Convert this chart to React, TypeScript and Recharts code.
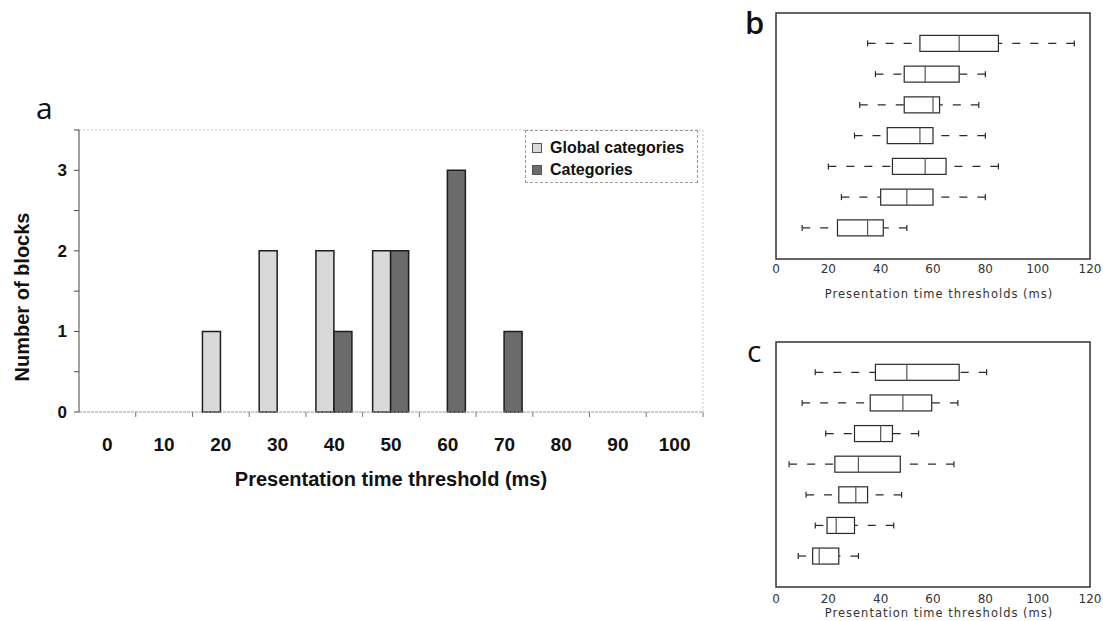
import React from "react";
import {
  BarChart,
  Bar,
  XAxis,
  YAxis,
  Legend,
  ReferenceLine,
  ComposedChart,
  ReferenceArea,
} from "recharts";

// panel a: histogram of thresholds
const thresholds = [0, 10, 20, 30, 40, 50, 60, 70, 80, 90, 100];
const globalCounts = [0, 0, 1, 2, 2, 2, 0, 0, 0, 0, 0];
const categoryCounts = [0, 0, 0, 0, 1, 2, 3, 1, 0, 0, 0];
const countTicks = [0, 0.5, 1, 1.5, 2, 2.5, 3, 3.5];
const seriesNames = ["Global categories", "Categories"];

// panels b and c: box plots, rows listed top to bottom
const timeTicks = [0, 20, 40, 60, 80, 100, 120];

const bLow = [35, 38, 32, 30, 20, 25, 10];
const bQ1 = [55, 49, 49, 42.5, 44.5, 40, 23.5];
const bMedian = [70, 57, 60, 55, 57, 50, 35];
const bQ3 = [85, 70, 62.5, 60, 65, 60, 41];
const bHigh = [114, 80, 77.5, 80, 85, 80, 50];

const cLow = [15, 10, 19, 5, 11.5, 15, 8.5];
const cQ1 = [38, 36, 30, 22.5, 24, 19.5, 14];
const cMedian = [50, 48.5, 40, 31.5, 30.5, 23, 16.5];
const cQ3 = [70, 59.5, 44.5, 47.5, 35, 30, 24];
const cHigh = [80.5, 69.5, 54.5, 68, 48, 45, 31.5];

const histData = thresholds.map((t, i) => ({
  t,
  global: globalCounts[i],
  cat: categoryCounts[i],
}));

// vertical layout puts small positions at the top
const makeRows = (low: number[], q1: number[], med: number[], q3: number[], high: number[]) =>
  low.map((_, i) => ({
    pos: i + 1,
    low: low[i],
    q1: q1[i],
    median: med[i],
    q3: q3[i],
    high: high[i],
  }));

const bRows = makeRows(bLow, bQ1, bMedian, bQ3, bHigh);
const cRows = makeRows(cLow, cQ1, cMedian, cQ3, cHigh);

const ARIAL = "'Liberation Sans', Arial, sans-serif";
const THIN = "'DejaVu Sans', sans-serif";
const PLOT_W = 624;
const BAND = PLOT_W / thresholds.length;

function ThresholdTick({ x, y, payload }: any) {
  return (
    <g>
      <line x1={x + BAND / 2} x2={x + BAND / 2} y1={y} y2={y + 5} stroke="#777" />
      <text x={x} y={y + 39} textAnchor="middle" fontFamily={ARIAL} fontWeight={700} fontSize={19} fill="#111">
        {payload.value}
      </text>
    </g>
  );
}

function HistLegend({ payload }: any) {
  const items = [...(payload || [])].sort(
    (a: any, b: any) => seriesNames.indexOf(a.value) - seriesNames.indexOf(b.value)
  );
  return (
    <div
      style={{
        border: "1px dashed #9a9a9a",
        padding: "6px 0 4px 6px",
        boxSizing: "border-box",
        height: 53,
        background: "#fff",
      }}
    >
      {items.map((item: any) => (
        <div key={item.value} style={{ display: "flex", alignItems: "center", height: 22 }}>
          <span
            style={{
              width: 8,
              height: 8,
              background: item.color,
              border: "1px solid #555",
              marginRight: 8,
            }}
          />
          <span style={{ fontFamily: ARIAL, fontWeight: 700, fontSize: 16, color: "#111" }}>{item.value}</span>
        </div>
      ))}
    </div>
  );
}

function BoxShape(props: any) {
  const { x, y, width, height, payload } = props;
  if (!payload) return null;
  const ppu = width / (payload.q3 - payload.q1);
  const px = (v: number) => x + (v - payload.q1) * ppu;
  const cy = y + height / 2;
  const lo = px(payload.low);
  const hi = px(payload.high);
  const med = px(payload.median);
  return (
    <g fill="none" stroke="#2a2a2a" strokeWidth={1.2}>
      <line x1={lo} x2={x} y1={cy} y2={cy} strokeDasharray="8 10" />
      <line x1={hi} x2={x + width} y1={cy} y2={cy} strokeDasharray="8 10" />
      <line x1={lo} x2={lo} y1={cy - 3} y2={cy + 3} />
      <line x1={hi} x2={hi} y1={cy - 3} y2={cy + 3} />
      <rect x={x} y={y} width={width} height={height} fill="#fff" />
      <line x1={med} x2={med} y1={y} y2={y + height} stroke="#555" />
    </g>
  );
}

function BoxPanel({ rows, height, top, tickMargin, axisHeight, labelOffset }: any) {
  return (
    <ComposedChart
      layout="vertical"
      width={343}
      height={height}
      data={rows}
      margin={{ top, right: 13, bottom: 1, left: 16 }}
    >
      <XAxis
        type="number"
        domain={[0, 120]}
        ticks={timeTicks}
        axisLine={false}
        tickLine={false}
        tickSize={0}
        tickMargin={tickMargin}
        height={axisHeight}
        tick={{ fontFamily: THIN, fontSize: 12, fill: "#333" }}
        label={{
          value: "Presentation time thresholds (ms)",
          position: "insideBottom",
          offset: labelOffset,
          dx: 6,
          style: { fontFamily: THIN, fontSize: 11.5, fill: "#333", letterSpacing: "1px" },
        }}
      />
      <YAxis type="number" dataKey="pos" domain={[0, 8]} hide />
      <ReferenceArea x1={0} x2={120} y1={0} y2={8} fill="none" stroke="#333" strokeWidth={1.5} />
      <Bar
        dataKey={(d: any) => [d.q1, d.q3]}
        barSize={16}
        shape={<BoxShape />}
        isAnimationActive={false}
      />
    </ComposedChart>
  );
}

export default function App() {
  return (
    <div style={{ position: "absolute", left: 0, top: 0, width: 1103, height: 621, background: "#fff", overflow: "hidden" }}>
      <div style={{ position: "absolute", left: 0, top: 0 }}>
        <BarChart
          width={720}
          height={560}
          data={histData}
          margin={{ top: 130, right: 17, bottom: 15, left: 0 }}
          barSize={18}
          barGap={0}
        >
          <XAxis
            dataKey="t"
            type="category"
            axisLine={{ stroke: "#9a9a9a", strokeDasharray: "3 1" }}
            tickLine={false}
            tickSize={0}
            tickMargin={0}
            height={80}
            interval={0}
            tick={<ThresholdTick />}
            label={{
              value: "Presentation time threshold (ms)",
              position: "insideBottom",
              offset: 6,
              style: { fontFamily: ARIAL, fontWeight: 700, fontSize: 20, fill: "#111" },
            }}
          />
          <YAxis
            domain={[0, 3.5]}
            ticks={countTicks}
            width={79}
            tickSize={5}
            tickMargin={7}
            axisLine={{ stroke: "#444" }}
            tickLine={{ stroke: "#444" }}
            tickFormatter={(v: number) => (Number.isInteger(v) ? String(v) : "")}
            tick={{ fontFamily: ARIAL, fontWeight: 700, fontSize: 17, fill: "#111" }}
          />
          <ReferenceLine y={3.5} stroke="#c4c4c4" strokeDasharray="2 2" />
          <ReferenceLine x={100} position="end" stroke="#c4c4c4" strokeDasharray="2 2" />
          <Legend
            layout="vertical"
            content={<HistLegend />}
            wrapperStyle={{ position: "absolute", left: 525, top: 130, width: 173, bottom: "auto", right: "auto" }}
          />
          <Bar
            dataKey="global"
            name={seriesNames[0]}
            fill="#d9d9d9"
            stroke="#1e1e1e"
            strokeWidth={1.5}
            isAnimationActive={false}
          />
          <Bar
            dataKey="cat"
            name={seriesNames[1]}
            fill="#6b6b6b"
            stroke="#1e1e1e"
            strokeWidth={1.5}
            isAnimationActive={false}
          />
        </BarChart>
      </div>

      <div style={{ position: "absolute", left: 760, top: 0 }}>
        <BoxPanel rows={bRows} height={310} top={13} tickMargin={5} axisHeight={50} labelOffset={11} />
      </div>
      <div style={{ position: "absolute", left: 760, top: 330 }}>
        <BoxPanel rows={cRows} height={291} top={12} tickMargin={7} axisHeight={33} labelOffset={3} />
      </div>

      <svg width={1103} height={621} style={{ position: "absolute", left: 0, top: 0, pointerEvents: "none" }}>
        <text x={36} y={119} fontFamily="'Open Sans', sans-serif" fontSize={30} fill="#111">a</text>
        <text x={745} y={34} fontFamily="'Open Sans', sans-serif" fontWeight={600} fontSize={31} fill="#111">b</text>
        <text x={747} y={362} fontFamily="'Open Sans', sans-serif" fontSize={30} fill="#111">c</text>
        <text
          x={22}
          y={297}
          transform="rotate(-90 22 297)"
          textAnchor="middle"
          dominantBaseline="central"
          fontFamily={ARIAL}
          fontWeight={700}
          fontSize={20}
          fill="#111"
        >
          Number of blocks
        </text>
      </svg>
    </div>
  );
}
